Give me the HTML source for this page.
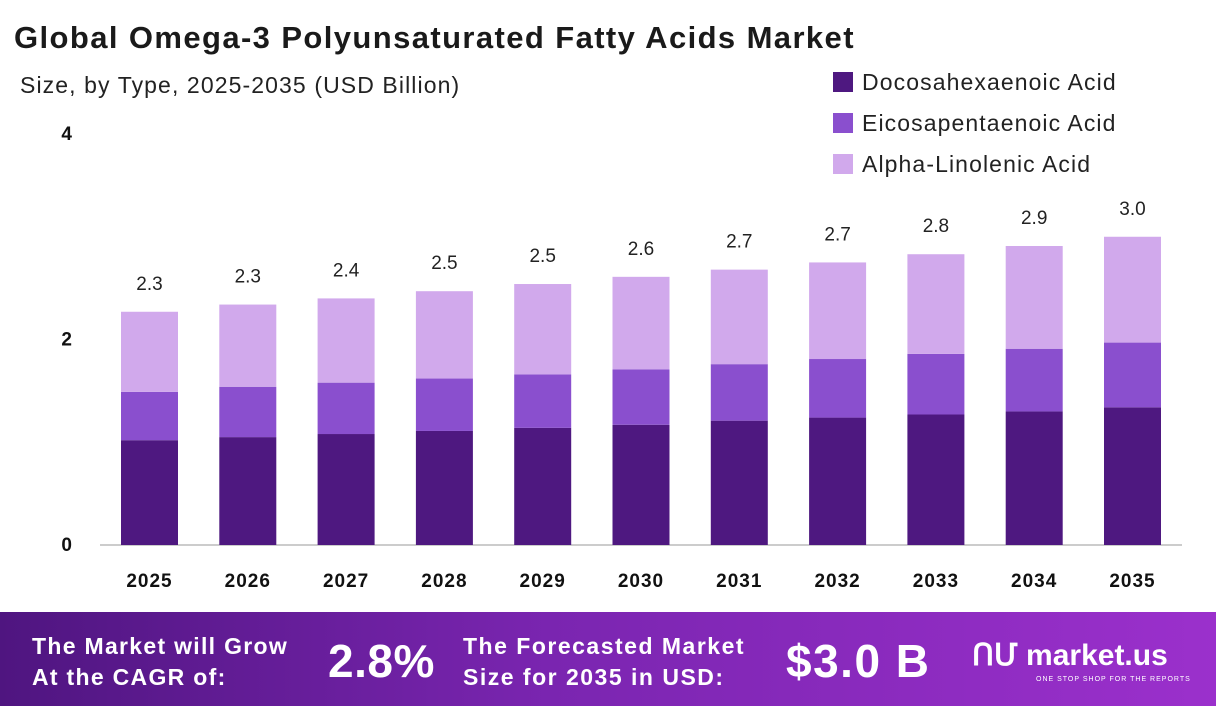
<!DOCTYPE html>
<html><head><meta charset="utf-8">
<style>
body{margin:0;width:1216px;height:706px;overflow:hidden;background:#fff;font-family:"Liberation Sans",sans-serif;}
#wrap{position:relative;width:1216px;height:706px;}
.abs{position:absolute;}
</style></head>
<body><div id="wrap">
<div class="abs" style="left:14px;top:20px;font-size:31px;font-weight:bold;color:#1a1a1a;letter-spacing:1.4px;white-space:nowrap;">Global Omega-3 Polyunsaturated Fatty Acids Market</div>
<div class="abs" style="left:20px;top:72px;font-size:23px;color:#222;letter-spacing:1.1px;">Size, by Type, 2025-2035 (USD Billion)</div>
<svg class="abs" style="left:0;top:0" width="1216" height="612" id="chart"></svg>
<div class="abs" style="left:0;top:612px;width:1216px;height:94px;background:linear-gradient(90deg,#4f1580 0%,#7a25b0 45%,#9b30cc 100%);color:#fff;">
 <div class="abs" style="left:32px;top:19px;font-size:23px;font-weight:bold;line-height:31px;letter-spacing:1.3px;">The Market will Grow<br>At the CAGR of:</div>
 <div class="abs" style="left:328px;top:22px;font-size:46px;font-weight:bold;letter-spacing:0.5px;">2.8%</div>
 <div class="abs" style="left:463px;top:19px;font-size:23px;font-weight:bold;line-height:31px;letter-spacing:1.5px;">The Forecasted Market<br>Size for 2035 in USD:</div>
 <div class="abs" style="left:786px;top:22px;font-size:46px;font-weight:bold;letter-spacing:1.5px;">$3.0 B</div>
 <div class="abs" style="left:972px;top:26px;font-size:30px;font-weight:bold;">ՈՄ market.us</div>
 <div class="abs" style="left:1036px;top:64px;font-size:7px;letter-spacing:1px;">ONE STOP SHOP FOR THE REPORTS</div>
</div>
</div>
<script>
const years=["2025","2026","2027","2028","2029","2030","2031","2032","2033","2034","2035"];
const dha=[1.02,1.05,1.08,1.11,1.14,1.17,1.21,1.24,1.27,1.30,1.34];
const epa=[0.47,0.49,0.50,0.51,0.52,0.54,0.55,0.57,0.59,0.61,0.63];
const ala=[0.78,0.80,0.82,0.85,0.88,0.90,0.92,0.94,0.97,1.00,1.03];
const totalLabels=["2.3","2.3","2.4","2.5","2.5","2.6","2.7","2.7","2.8","2.9","3.0"];
const yTicks=[0,2,4];
const seriesNames=["Docosahexaenoic Acid","Eicosapentaenoic Acid","Alpha-Linolenic Acid"];
const colors=["#4e1880","#8a4fce","#d1a9ec"];
const svg=document.getElementById('chart');const NS="http://www.w3.org/2000/svg";
const y0=545,ppu=102.75,x0=149.5,step=98.3,bw=57;
const Y=v=>y0-v*ppu, X=i=>x0+i*step;
function mk(t,a){const e=document.createElementNS(NS,t);for(const k in a)e.setAttribute(k,a[k]);svg.appendChild(e);return e;}
yTicks.forEach(t=>{const e=mk('text',{x:72,y:Y(t)+6,'text-anchor':'end','font-size':19,'font-weight':'bold',fill:'#111'});e.textContent=t;

});
const ax=mk('line',{x1:100,x2:1182,y1:y0,y2:y0,stroke:'#ccc','stroke-width':2});


years.forEach((yr,i)=>{
 const segs=[dha[i],epa[i],ala[i]];let base=0;
 segs.forEach((v,s)=>{const r=mk('rect',{x:X(i)-bw/2,y:Y(base+v),width:bw,height:v*ppu,fill:colors[s]});
  
  base+=v;});
 const t=mk('text',{x:X(i),y:Y(base)-22,'text-anchor':'middle','font-size':19,fill:'#222'});t.textContent=totalLabels[i];
 
 
 const xl=mk('text',{x:X(i),y:587,'text-anchor':'middle','font-size':19,'font-weight':'bold',fill:'#111','letter-spacing':1});xl.textContent=yr;
 
 
});
seriesNames.forEach((n,s)=>{const yy=72+s*41;
 const r=mk('rect',{x:833,y:yy,width:20,height:20,fill:colors[s]});
 
 
 const t=mk('text',{x:862,y:yy+18,'font-size':23,fill:'#222','letter-spacing':1.1});t.textContent=n;
 
 });
</script>
</body></html>
